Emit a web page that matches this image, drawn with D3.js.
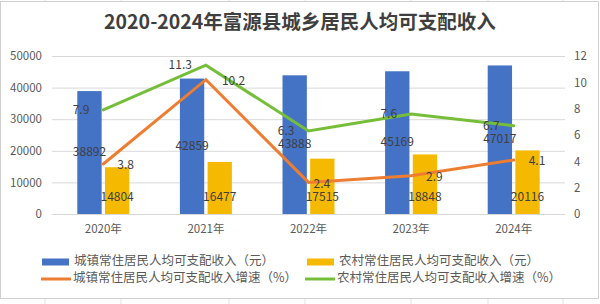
<!DOCTYPE html>
<html>
<head>
<meta charset="utf-8">
<script src="https://cdn.jsdelivr.net/npm/d3@7"></script>
<style>
  body { margin: 0; background: #fff; }
  svg { display: block; font-family: "Noto Sans CJK SC", "Noto Sans", sans-serif; }
</style>
</head>
<body>
<div id="chart"></div>
<script>
// data
var years = ["2020年", "2021年", "2022年", "2023年", "2024年"];
var urbanIncome = [38892, 42859, 43888, 45169, 47017];
var ruralIncome = [14804, 16477, 17515, 18848, 20116];
var urbanGrowth = [3.8, 10.2, 2.4, 2.9, 4.1];
var ruralGrowth = [7.9, 11.3, 6.3, 7.6, 6.7];
var leftTicks = [0, 10000, 20000, 30000, 40000, 50000];
var rightTicks = [0, 2, 4, 6, 8, 10, 12];

var title = "2020-2024年富源县城乡居民人均可支配收入";
var names = {
  urban: "城镇常住居民人均可支配收入（元）",
  rural: "农村常住居民人均可支配收入（元）",
  urbanG: "城镇常住居民人均可支配收入增速（%）",
  ruralG: "农村常住居民人均可支配收入增速（%）"
};

var COLORS = {
  blue: "#4472C4",
  gold: "#F5BA00",
  orange: "#ED7D31",
  green: "#76BE3A",
  grid: "#d9d9d9",
  axisText: "#595959",
  label: "#404040"
};

// label nudges (layout only)
var urbanLabelDx = [14, 16, 5, 15, 15];

var width = 600, height = 304;
var margins = { top: 56, right: 35, bottom: 90, left: 52 };
var chartWidth = width - margins.left - margins.right;
var chartHeight = height - margins.top - margins.bottom;

var svg = d3.select("#chart").append("svg")
  .attr("width", width)
  .attr("height", height);

// spreadsheet cell lines peeking out around the chart frame
var cellX = [45, 121, 229, 305, 411, 488, 563];
svg.append("g").selectAll("line").data(cellX).enter().append("line")
  .attr("x1", d => d).attr("x2", d => d).attr("y1", 0).attr("y2", 2)
  .attr("stroke", "#e3e3e3");
svg.append("g").selectAll("line").data(cellX).enter().append("line")
  .attr("x1", d => d).attr("x2", d => d).attr("y1", 298).attr("y2", 304)
  .attr("stroke", "#e3e3e3");

svg.append("rect")
  .attr("x", 0.5).attr("y", 1.5)
  .attr("width", 598).attr("height", 297)
  .attr("fill", "#fff")
  .attr("stroke", "#d0d0d0");

svg.append("text")
  .attr("x", 300).attr("y", 24)
  .attr("text-anchor", "middle")
  .attr("dominant-baseline", "middle")
  .attr("font-size", 19.5)
  .attr("font-weight", "bold")
  .attr("fill", "#3f3f3f")
  .text(title);

var chart = svg.append("g")
  .attr("transform", `translate(${margins.left},${margins.top})`);

// scales
var xScale = d3.scaleBand().domain(years).range([0, chartWidth]);
var xSub = d3.scaleBand().domain(["urban", "rural"]).range([-26, 26]).paddingInner(0.12);
var yLeft = d3.scaleLinear().domain([0, 50000]).range([chartHeight, 0]);
var yRight = d3.scaleLinear().domain([0, 12]).range([chartHeight, 0]);
var cx = d => xScale(d) + xScale.bandwidth() / 2;

// grid
chart.append("g")
  .attr("class", "y grid")
  .call(d3.axisLeft(yLeft).tickValues(leftTicks).tickSize(-chartWidth).tickFormat(""))
  .call(g => g.select(".domain").remove())
  .call(g => g.selectAll("line").attr("stroke", COLORS.grid));

// axes
chart.append("g")
  .attr("class", "y axis")
  .call(d3.axisLeft(yLeft).tickValues(leftTicks).tickSize(0).tickPadding(10).tickFormat(d3.format("d")))
  .call(g => g.select(".domain").remove())
  .call(g => g.selectAll("text")
    .attr("font-size", 11.5)
    .attr("fill", COLORS.axisText)
    .attr("font-family", "'Noto Sans CJK SC', sans-serif"));

chart.append("g")
  .attr("class", "y2 axis")
  .attr("transform", `translate(${chartWidth},0)`)
  .call(d3.axisRight(yRight).tickValues(rightTicks).tickSize(0).tickPadding(9))
  .call(g => g.select(".domain").remove())
  .call(g => g.selectAll("text")
    .attr("font-size", 11.5)
    .attr("fill", COLORS.axisText)
    .attr("font-family", "'Noto Sans CJK SC', sans-serif"));

chart.append("g")
  .attr("class", "x axis")
  .attr("transform", `translate(0,${chartHeight})`)
  .call(d3.axisBottom(xScale).tickSize(0).tickPadding(11))
  .call(g => g.select(".domain").remove())
  .call(g => g.selectAll("text")
    .attr("font-size", 11.5)
    .attr("fill", COLORS.axisText)
    .attr("font-family", "'Noto Sans CJK SC', sans-serif"));

// bars
var barData = years.map((y, i) => ({ year: y, urban: urbanIncome[i], rural: ruralIncome[i] }));

chart.append("g").attr("class", "bars urban")
  .selectAll("rect").data(barData).enter().append("rect")
  .attr("x", d => cx(d.year) + xSub("urban"))
  .attr("width", xSub.bandwidth())
  .attr("y", d => yLeft(d.urban))
  .attr("height", d => yLeft(0) - yLeft(d.urban))
  .attr("fill", COLORS.blue);

chart.append("g").attr("class", "bars rural")
  .selectAll("rect").data(barData).enter().append("rect")
  .attr("x", d => cx(d.year) + xSub("rural"))
  .attr("width", xSub.bandwidth())
  .attr("y", d => yLeft(d.rural))
  .attr("height", d => yLeft(0) - yLeft(d.rural))
  .attr("fill", COLORS.gold);

// lines
var growthLine = d3.line().x((d, i) => cx(years[i])).y(d => yRight(d));
chart.append("path")
  .datum(urbanGrowth)
  .attr("fill", "none")
  .attr("stroke", COLORS.orange)
  .attr("stroke-width", 3)
  .attr("stroke-linecap", "round")
  .attr("d", growthLine);

chart.append("path")
  .datum(ruralGrowth)
  .attr("fill", "none")
  .attr("stroke", COLORS.green)
  .attr("stroke-width", 3)
  .attr("stroke-linecap", "round")
  .attr("d", growthLine);

// value labels
var labels = chart.append("g").attr("class", "values")
  .attr("font-size", 12)
  .attr("fill", COLORS.label);

labels.selectAll("text.urban").data(barData).enter().append("text")
  .attr("class", "urban")
  .attr("x", d => cx(d.year) + xSub("urban") + xSub.bandwidth() / 2)
  .attr("y", d => (yLeft(d.urban) + yLeft(0)) / 2)
  .attr("text-anchor", "middle")
  .attr("dominant-baseline", "middle")
  .text(d => d.urban);

labels.selectAll("text.rural").data(barData).enter().append("text")
  .attr("class", "rural")
  .attr("x", d => cx(d.year) + xSub("rural") + xSub.bandwidth() / 2)
  .attr("y", yLeft(0) - 16)
  .attr("text-anchor", "middle")
  .attr("dominant-baseline", "middle")
  .text(d => d.rural);

labels.selectAll("text.ug").data(urbanGrowth).enter().append("text")
  .attr("class", "ug")
  .attr("x", (d, i) => cx(years[i]) + urbanLabelDx[i])
  .attr("y", d => yRight(d) + 2)
  .attr("dominant-baseline", "middle")
  .text(d => d.toFixed(1));

labels.selectAll("text.rg").data(ruralGrowth).enter().append("text")
  .attr("class", "rg")
  .attr("x", (d, i) => cx(years[i]) - 14)
  .attr("y", d => yRight(d) + 1)
  .attr("text-anchor", "end")
  .attr("dominant-baseline", "middle")
  .text(d => d.toFixed(1));

// legend
var legendItems = [
  { key: "urban", type: "rect", color: COLORS.blue, x: 42, y: 262 },
  { key: "rural", type: "rect", color: COLORS.gold, x: 307, y: 262 },
  { key: "urbanG", type: "line", color: COLORS.orange, x: 41, y: 279 },
  { key: "ruralG", type: "line", color: COLORS.green, x: 305, y: 279 }
];

var legend = svg.append("g").attr("class", "legend");
legendItems.forEach(function(item) {
  var g = legend.append("g").attr("transform", `translate(${item.x},${item.y})`);
  if (item.type == "rect") {
    g.append("rect").attr("x", 0).attr("y", -3.5).attr("width", 27).attr("height", 7)
      .attr("fill", item.color);
  } else {
    g.append("line").attr("x1", 0).attr("x2", 30).attr("y1", 0).attr("y2", 0)
      .attr("stroke", item.color).attr("stroke-width", 3);
  }
  g.append("text")
    .attr("x", 32)
    .attr("y", 0)
    .attr("dominant-baseline", "middle")
    .attr("font-size", 12.5)
    .attr("fill", COLORS.axisText)
    .text(names[item.key]);
});
</script>
</body>
</html>
